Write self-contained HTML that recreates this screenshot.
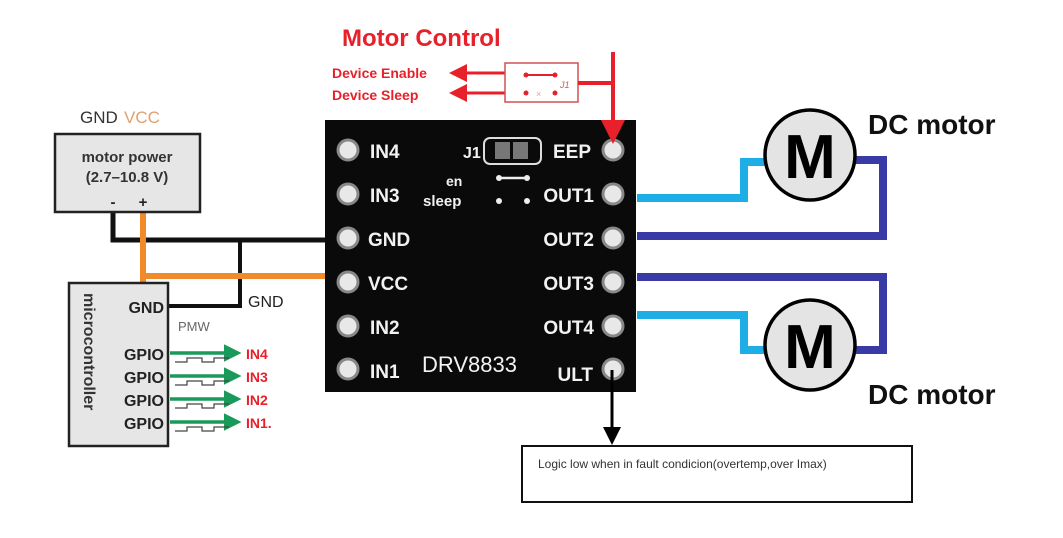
<!DOCTYPE html>
<html><head><meta charset="utf-8"><style>
html,body{margin:0;padding:0;background:#fff;}
svg{display:block;}
text{font-family:"Liberation Sans",Arial,sans-serif;}
</style></head><body>
<svg width="1063" height="538" viewBox="0 0 1063 538" xmlns="http://www.w3.org/2000/svg">
<defs>
<marker id="ar" markerWidth="6" markerHeight="6" refX="5" refY="3" orient="auto" markerUnits="strokeWidth"><path d="M0,0 L6,3 L0,6 z" fill="#e8202a"/></marker>
<marker id="ag" markerWidth="5" markerHeight="5" refX="4" refY="2.5" orient="auto" markerUnits="strokeWidth"><path d="M0,0 L5,2.5 L0,5 z" fill="#1a9a5a"/></marker>
<marker id="ab" markerWidth="6" markerHeight="6" refX="5" refY="3" orient="auto" markerUnits="strokeWidth"><path d="M0,0 L6,3 L0,6 z" fill="#000"/></marker>
</defs>

<!-- power wiring -->
<polyline points="113,213 113,240 328,240" fill="none" stroke="#111" stroke-width="5"/>
<polyline points="240,240 240,306 168,306" fill="none" stroke="#111" stroke-width="4"/>
<polyline points="143,213 143,276 328,276" fill="none" stroke="#f08a2a" stroke-width="6"/>
<line x1="143" y1="276" x2="143" y2="284" stroke="#f08a2a" stroke-width="6"/>

<!-- motor power box -->
<text x="80" y="123" font-size="17" fill="#333">GND</text>
<text x="124" y="123" font-size="17" fill="#e0a070">VCC</text>
<rect x="55" y="134" width="145" height="78" fill="#e6e6e6" stroke="#222" stroke-width="2.5"/>
<text x="127" y="162" font-size="15" font-weight="bold" fill="#333" text-anchor="middle">motor power</text>
<text x="127" y="182" font-size="15" font-weight="bold" fill="#333" text-anchor="middle">(2.7–10.8 V)</text>
<text x="113" y="207" font-size="15" font-weight="bold" fill="#222" text-anchor="middle">-</text>
<text x="143" y="207" font-size="15" font-weight="bold" fill="#222" text-anchor="middle">+</text>

<!-- microcontroller -->
<rect x="69" y="283" width="99" height="163" fill="#e6e6e6" stroke="#222" stroke-width="2.5"/>
<text transform="translate(84,293) rotate(90)" font-size="16" font-weight="bold" fill="#333">microcontroller</text>
<text x="164" y="313" font-size="16" font-weight="bold" fill="#222" text-anchor="end">GND</text>
<text x="248" y="307" font-size="16" fill="#222">GND</text>
<text x="178" y="331" font-size="13" fill="#666" font-family="Liberation Serif,serif">PMW</text>
<g font-size="16" font-weight="bold" fill="#222" text-anchor="end">
<text x="164" y="360">GPIO</text><text x="164" y="383">GPIO</text><text x="164" y="406">GPIO</text><text x="164" y="429">GPIO</text>
</g>
<g stroke="#1a9a5a" stroke-width="3.5" marker-end="url(#ag)">
<line x1="170" y1="353" x2="238" y2="353"/><line x1="170" y1="376" x2="238" y2="376"/><line x1="170" y1="399" x2="238" y2="399"/><line x1="170" y1="422" x2="238" y2="422"/>
</g>
<g fill="none" stroke="#444" stroke-width="1.2">
<path d="M175,362 h12 v-4 h15 v4 h12 v-4 h15"/>
<path d="M175,385 h12 v-4 h15 v4 h12 v-4 h15"/>
<path d="M175,408 h12 v-4 h15 v4 h12 v-4 h15"/>
<path d="M175,431 h12 v-4 h15 v4 h12 v-4 h15"/>
</g>
<g font-size="14" font-weight="bold" fill="#e8202a">
<text x="246" y="359">IN4</text><text x="246" y="382">IN3</text><text x="246" y="405">IN2</text><text x="246" y="428">IN1.</text>
</g>

<!-- motor control -->
<text x="342" y="46" font-size="24" font-weight="bold" fill="#e8202a">Motor Control</text>
<text x="332" y="78" font-size="14" font-weight="bold" fill="#e8202a">Device Enable</text>
<text x="332" y="100" font-size="14" font-weight="bold" fill="#e8202a">Device Sleep</text>
<g stroke="#e8202a" stroke-width="3" marker-end="url(#ar)">
<line x1="505" y1="73" x2="452" y2="73"/><line x1="505" y1="93" x2="452" y2="93"/>
</g>
<rect x="505" y="63" width="73" height="39" fill="#fff" stroke="#d05050" stroke-width="1.5"/>
<line x1="526" y1="75" x2="555" y2="75" stroke="#e8202a" stroke-width="2"/>
<circle cx="526" cy="75" r="2.5" fill="#e8202a"/><circle cx="555" cy="75" r="2.5" fill="#e8202a"/>
<circle cx="526" cy="93" r="2.5" fill="#e8202a"/><circle cx="555" cy="93" r="2.5" fill="#e8202a"/>
<text x="536" y="97" font-size="9" fill="#e0a0a0">×</text>
<text x="560" y="88" font-size="9" fill="#c06060" font-style="italic">J1</text>
<line x1="578" y1="83" x2="613" y2="83" stroke="#e8202a" stroke-width="4"/>

<!-- motor wires -->
<polyline points="637,198 744,198 744,162 768,162" fill="none" stroke="#1eaee6" stroke-width="8"/>
<polyline points="852,160 883,160 883,236 637,236" fill="none" stroke="#3a3aa6" stroke-width="8"/>
<polyline points="637,277 883,277 883,350 852,350" fill="none" stroke="#3a3aa6" stroke-width="8"/>
<polyline points="637,315 744,315 744,350 768,350" fill="none" stroke="#1eaee6" stroke-width="8"/>

<!-- board -->
<rect x="325" y="120" width="311" height="272" fill="#0a0a0a"/>
<g fill="#e8e8e8" stroke="#888" stroke-width="3">
<circle cx="348" cy="150" r="10"/><circle cx="348" cy="194" r="10"/><circle cx="348" cy="238" r="10"/><circle cx="348" cy="282" r="10"/><circle cx="348" cy="326" r="10"/><circle cx="348" cy="369" r="10"/>
<circle cx="613" cy="150" r="10"/><circle cx="613" cy="194" r="10"/><circle cx="613" cy="238" r="10"/><circle cx="613" cy="282" r="10"/><circle cx="613" cy="326" r="10"/><circle cx="613" cy="369" r="10"/>
</g>
<g font-size="19" font-weight="bold" fill="#f2f2f2">
<text x="370" y="158">IN4</text><text x="370" y="202">IN3</text><text x="368" y="246">GND</text><text x="368" y="290">VCC</text><text x="370" y="334">IN2</text><text x="370" y="378">IN1</text>
</g>
<g font-size="19" font-weight="bold" fill="#f2f2f2" text-anchor="end">
<text x="591" y="158">EEP</text><text x="594" y="202">OUT1</text><text x="594" y="246">OUT2</text><text x="594" y="290">OUT3</text><text x="594" y="334">OUT4</text><text x="593" y="381">ULT</text>
</g>
<text x="422" y="372" font-size="22" fill="#f2f2f2">DRV8833</text>
<text x="463" y="158" font-size="16" font-weight="bold" fill="#f2f2f2">J1</text>
<rect x="484" y="138" width="57" height="26" rx="6" fill="none" stroke="#ddd" stroke-width="2"/>
<rect x="495" y="142" width="15" height="17" fill="#777"/><rect x="513" y="142" width="15" height="17" fill="#777"/>
<text x="446" y="186" font-size="14" font-weight="bold" fill="#f2f2f2">en</text>
<text x="423" y="206" font-size="15" font-weight="bold" fill="#f2f2f2">sleep</text>
<line x1="499" y1="178" x2="527" y2="178" stroke="#eee" stroke-width="2.5"/>
<circle cx="499" cy="178" r="3" fill="#eee"/><circle cx="527" cy="178" r="3" fill="#eee"/>
<circle cx="499" cy="201" r="3" fill="#eee"/><circle cx="527" cy="201" r="3" fill="#eee"/>

<!-- red arrow onto EEP pin -->
<line x1="613" y1="52" x2="613" y2="140" stroke="#e8202a" stroke-width="4" marker-end="url(#ar)"/>

<!-- motors -->
<circle cx="810" cy="155" r="45" fill="#e4e4e4" stroke="#000" stroke-width="3.5"/>
<text x="810" y="178" font-size="62" font-weight="bold" text-anchor="middle" fill="#000">M</text>
<circle cx="810" cy="345" r="45" fill="#e4e4e4" stroke="#000" stroke-width="3.5"/>
<text x="810" y="368" font-size="62" font-weight="bold" text-anchor="middle" fill="#000">M</text>
<text x="868" y="134" font-size="28" font-weight="bold" fill="#111">DC motor</text>
<text x="868" y="404" font-size="28" font-weight="bold" fill="#111">DC motor</text>

<!-- ULT -->
<line x1="612" y1="370" x2="612" y2="442" stroke="#000" stroke-width="3" marker-end="url(#ab)"/>
<rect x="522" y="446" width="390" height="56" fill="#fff" stroke="#111" stroke-width="2"/>
<text x="538" y="468" font-size="12" fill="#333">Logic low when in fault condicion(overtemp,over Imax)</text>
</svg>
</body></html>
